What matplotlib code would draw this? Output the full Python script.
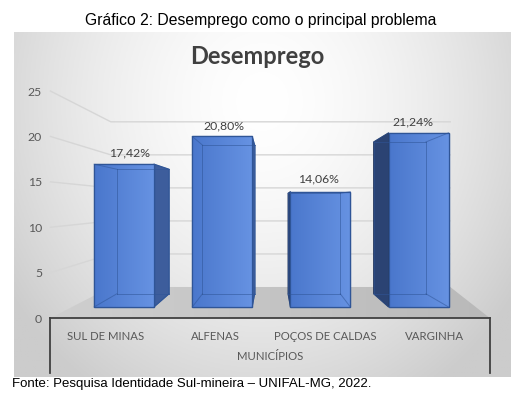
import numpy as np
import matplotlib.pyplot as plt
from matplotlib.patches import Polygon

categorias = ['SUL DE MINAS', 'ALFENAS', 'POÇOS DE CALDAS', 'VARGINHA']
valores = [17.42, 20.80, 14.06, 21.24]
y_ticks = [0, 5, 10, 15, 20, 25]

W, H = 525, 399

# front plane layout, in pixels
CAT0_X, CAT_STEP = 124, 98.2
ZERO_Y, UNIT_H = 307, 8.2
BAR_W = 0.61

# simple perspective: vanishing point (data coords) and depth strength
VP = (1.507, 12.56)
K = 0.147
X_L, X_RF, X_RB = -0.53, 3.51, 3.76
Z_F, Z_B = -0.66, 1.64
Y_TOP = 25


def proj(x, y, z):
    s = 1 / (1 + K * z)
    return VP[0] + s * (x - VP[0]), VP[1] + s * (y - VP[1])


def grad(c1, c2, n=64):
    a = np.array(plt.matplotlib.colors.to_rgb(c1))
    b = np.array(plt.matplotlib.colors.to_rgb(c2))
    t = np.linspace(0, 1, n)[None, :, None]
    return a + (b - a) * t


fig = plt.figure(figsize=(W / 100, H / 100), dpi=100)

# chart area background with radial gradient
bx0, by0, bx1, by1 = 14, 32, 511, 377
ax_bg = fig.add_axes([bx0 / W, 1 - by1 / H, (bx1 - bx0) / W, (by1 - by0) / H])
gx, gy = np.meshgrid(np.linspace(0, 1, 200), np.linspace(0, 1, 200))
r = np.sqrt(((gx - 0.5) / 0.62) ** 2 + ((gy - 0.8) / 1.0) ** 2)
v = 1 - 0.2 * np.clip(r, 0, 1) ** 1.6
ax_bg.imshow(np.dstack([v, v, v]), extent=[0, 1, 0, 1], origin='lower', aspect='auto')
ax_bg.axis('off')

# main axes in front-plane data coordinates
ax = fig.add_axes([0, 0, 1, 1])
ax.set_facecolor('none')
ax.set_xlim((0 - CAT0_X) / CAT_STEP, (W - CAT0_X) / CAT_STEP)
ax.set_ylim((ZERO_Y - H) / UNIT_H, ZERO_Y / UNIT_H)
ax.axis('off')

# floor
floor = [proj(X_L, 0, Z_F), proj(X_L, 0, Z_B), proj(X_RB, 0, Z_B), proj(X_RF, 0, Z_F)]
floor_patch = Polygon(floor, closed=True, facecolor='none', edgecolor='none', zorder=1)
ax.add_patch(floor_patch)
fxs = [p[0] for p in floor]
fys = [p[1] for p in floor]
fim = ax.imshow(grad('#cfcfcf', '#b9b9b9'), extent=[min(fxs), max(fxs), min(fys), max(fys)],
                aspect='auto', zorder=1)
fim.set_clip_path(floor_patch)

# gridlines on side wall and back wall
for t in y_ticks[1:]:
    pts = [proj(X_L, t, Z_F), proj(X_L, t, Z_B), proj(X_RB, t, Z_B)]
    ax.plot([p[0] for p in pts], [p[1] for p in pts], color='#d6d6d6', lw=1.0, zorder=1)

# bars
for i, val in enumerate(valores):
    x0, x1 = i - BAR_W / 2, i + BAR_W / 2
    b00, b10 = proj(x0, 0, 1), proj(x1, 0, 1)
    b11, b01 = proj(x1, val, 1), proj(x0, val, 1)

    if b10[0] > x1:
        side = [(x1, 0), (x1, val), b11, b10]
        ax.add_patch(Polygon(side, closed=True, facecolor='#3d5d9c', edgecolor='#2f5597',
                             lw=0.8, zorder=2))
    if b00[0] < x0:
        side = [(x0, 0), (x0, val), b01, b00]
        ax.add_patch(Polygon(side, closed=True, facecolor='#2b4373', edgecolor='#22365e',
                             lw=0.8, zorder=2))

    bar = ax.bar(i, val, width=BAR_W, color='#5a85d4', edgecolor='#2f5597', lw=0.9, zorder=3)[0]
    im = ax.imshow(grad('#4a77cc', '#6692e2'), extent=[x0, x1, 0, val], aspect='auto', zorder=3)
    im.set_clip_path(bar)
    ax.add_patch(Polygon([(x0, 0), (x1, 0), (x1, val), (x0, val)], closed=True,
                         facecolor='none', edgecolor='#2f5597', lw=0.9, zorder=4))

    # back edges seen through the front face
    for a, b in [(b00, b10), (b10, b11), (b11, b01), (b01, b00),
                 ((x0, 0), b00), ((x1, 0), b10), ((x1, val), b11), ((x0, val), b01)]:
        ax.plot([a[0], b[0]], [a[1], b[1]], color='#2f5597', lw=0.7, alpha=0.55, zorder=4)

    lx, ly = proj(i, val, 0.25)
    ax.annotate(f'{val:.2f}%'.replace('.', ','), xy=(lx, ly), xytext=(0, 9.4),
                textcoords='offset points', ha='center', va='center',
                fontsize=8.8, color='#404040', family='Lato')

# value axis labels on the front edge of the side wall
fig.canvas.draw()
to_fig = fig.transFigure.inverted()
fl = to_fig.transform(ax.transData.transform(proj(X_L, 0, Z_F)))
fr = to_fig.transform(ax.transData.transform(proj(X_RF, 0, Z_F)))

s_f = 1 / (1 + K * Z_F)
ylo, yhi = ax.get_ylim()
ax_y = fig.add_axes([fl[0], 0, 0.01, 1])
ax_y.set_facecolor('none')
ax_y.set_ylim(VP[1] + (ylo - VP[1]) / s_f, VP[1] + (yhi - VP[1]) / s_f)
ax_y.set_yticks(y_ticks)
ax_y.tick_params(axis='y', length=0, pad=6, labelsize=8.8, labelcolor='#595959')
for lab in ax_y.get_yticklabels():
    lab.set_family('Lato')
ax_y.set_xticks([])
for sp in ax_y.spines.values():
    sp.set_visible(False)

# category axis box
cat_bottom = 1 - 373 / H
ax_cat = fig.add_axes([fl[0], cat_bottom, fr[0] - fl[0], fl[1] - cat_bottom])
ax_cat.set_facecolor('none')
ax_cat.set_xlim(-0.5, len(categorias) - 0.5)
ax_cat.set_ylim(0, 1)
ax_cat.set_yticks([])
ax_cat.xaxis.set_ticks_position('top')
ax_cat.set_xticks(range(len(categorias)))
ax_cat.set_xticklabels(categorias, family='Lato', fontsize=8.2, color='#595959')
ax_cat.tick_params(axis='x', length=0, pad=-17.5)
ax_cat.spines['bottom'].set_visible(False)
for k in ['top', 'left', 'right']:
    ax_cat.spines[k].set_color('#404040')
    ax_cat.spines[k].set_linewidth(1.3)
ax_cat.text(0.5, 0.30, 'MUNICÍPIOS', transform=ax_cat.transAxes, ha='center', va='center',
            family='Lato', fontsize=8.2, color='#595959')

# titles and source
fig.text(257 / W, 1 - 57 / H, 'Desemprego', ha='center', va='center',
         family='Lato', fontweight='bold', fontsize=17, color='#404040')
fig.text(261 / W, 1 - 21 / H, 'Gráfico 2: Desemprego como o principal problema',
         ha='center', va='center', family='Liberation Sans', fontsize=11.3, color='black')
fig.text(12 / W, 1 - 384 / H, 'Fonte: Pesquisa Identidade Sul-mineira – UNIFAL-MG, 2022.',
         ha='left', va='center', family='Liberation Sans', fontsize=9.5, color='black')

fig.savefig('out.png', dpi=100)
